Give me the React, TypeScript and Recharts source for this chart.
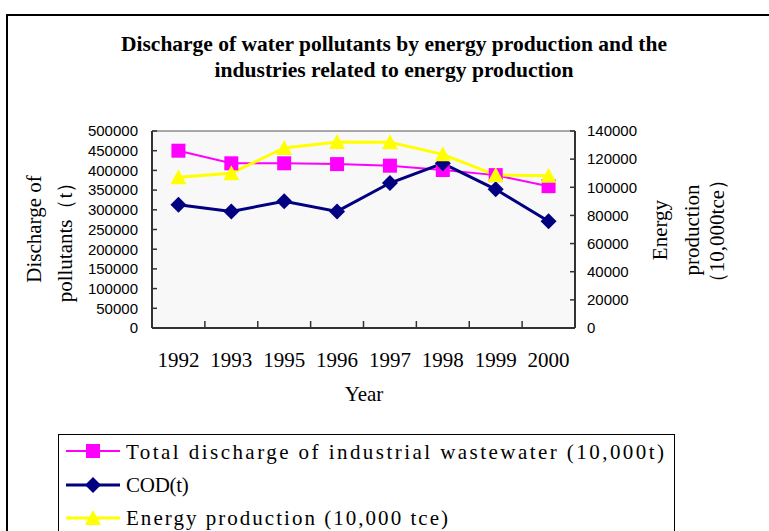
import React from 'react';
import { LineChart, Line, XAxis, YAxis, Legend, ReferenceLine, CartesianGrid } from 'recharts';

const years = ['1992', '1993', '1995', '1996', '1997', '1998', '1999', '2000'];
const wastewater = [450000, 418000, 418000, 416000, 412000, 401000, 388000, 360000];
const cod = [313000, 296000, 321500, 296000, 368000, 418000, 352000, 271000];
const energy = [107100, 110000, 128000, 132200, 132000, 123400, 108700, 108200];

const leftTicks = [0, 50000, 100000, 150000, 200000, 250000, 300000, 350000, 400000, 450000, 500000];
const rightTicks = [0, 20000, 40000, 60000, 80000, 100000, 120000, 140000];

const titleLines = [
  'Discharge of water pollutants by energy production and the',
  'industries related to energy production',
];
const leftTitle = ['Discharge of', 'pollutants（t）'];
const rightTitle = ['Energy', 'production', '（10,000tce）'];
const xTitle = 'Year';

const seriesNames = [
  'Total discharge of industrial wastewater (10,000t)',
  'COD(t)',
  'Energy production (10,000 tce)',
];

const data = years.map((y, i) => ({ year: y, ww: wastewater[i], cod: cod[i], en: energy[i] }));

const MAGENTA = '#FF00FF';
const NAVY = '#000080';
const YELLOW = '#FFFF00';
const SERIF = '"Liberation Serif", "Times New Roman", serif';
const SANS = '"Liberation Sans", Arial, sans-serif';

const W = 769;
const H = 531;
const M = { top: 131, right: 2, bottom: 2, left: 2 };
const LEFT_W = 150;
const RIGHT_W = 192;
const X_H = 201;
const PLOT_W = W - M.left - M.right - LEFT_W - RIGHT_W;
const HALF_BAND = PLOT_W / years.length / 2;
const TICK_MARGIN = 24;

const Square = (p: any) => {
  const { cx, cy, index } = p;
  if (cx == null || cy == null) return <g key={'s' + index} />;
  return <rect key={'s' + index} x={cx - 7} y={cy - 7} width={14} height={14} fill={MAGENTA} />;
};
const Diamond = (p: any) => {
  const { cx, cy, index } = p;
  if (cx == null || cy == null) return <g key={'d' + index} />;
  return (
    <polygon
      key={'d' + index}
      points={`${cx},${cy - 8} ${cx + 8},${cy} ${cx},${cy + 8} ${cx - 8},${cy}`}
      fill={NAVY}
    />
  );
};
const Triangle = (p: any) => {
  const { cx, cy, index } = p;
  if (cx == null || cy == null) return <g key={'t' + index} />;
  return (
    <polygon
      key={'t' + index}
      points={`${cx},${cy - 8} ${cx + 8},${cy + 7} ${cx - 8},${cy + 7}`}
      fill={YELLOW}
    />
  );
};

const CatTick = (p: any) => {
  const { x, y, payload, index } = p;
  const axisY = y - TICK_MARGIN;
  const sx = x + HALF_BAND;
  return (
    <g>
      {index < years.length - 1 && (
        <line x1={sx} x2={sx} y1={axisY - 7} y2={axisY} stroke="#333" strokeWidth={1.5} />
      )}
      <text x={x} y={y} dy="0.71em" textAnchor="middle" fontFamily={SERIF} fontSize={21} fill="#000">
        {payload.value}
      </text>
    </g>
  );
};

const LegendContent = () => {
  const rows = [
    { name: seriesNames[0], color: MAGENTA, w: 2, kind: 's' },
    { name: seriesNames[1], color: NAVY, w: 3, kind: 'd' },
    { name: seriesNames[2], color: YELLOW, w: 3, kind: 't' },
  ];
  const cy = [17, 51, 84];
  const base = [25, 58, 91];
  return (
    <svg width={620} height={110} style={{ display: 'block' }}>
      <rect x={0.5} y={0.5} width={616} height={120} fill="#fff" stroke="#000" strokeWidth={1} />
      {rows.map((r, i) => (
        <g key={i}>
          <line x1={8} x2={62} y1={cy[i]} y2={cy[i]} stroke={r.color} strokeWidth={r.w} />
          {r.kind === 's' && <rect x={28} y={cy[i] - 7} width={14} height={14} fill={r.color} />}
          {r.kind === 'd' && (
            <polygon points={`35,${cy[i] - 8} 43,${cy[i]} 35,${cy[i] + 8} 27,${cy[i]}`} fill={r.color} />
          )}
          {r.kind === 't' && (
            <polygon points={`35,${cy[i] - 8} 43,${cy[i] + 7} 27,${cy[i] + 7}`} fill={r.color} />
          )}
          <text
            x={68}
            y={base[i]}
            fontFamily={SERIF}
            fontSize={21}
            fill="#000"
            textLength={r.name.length * 10.8 - 2}
            lengthAdjust="spacing"
          >
            {r.name}
          </text>
        </g>
      ))}
    </svg>
  );
};

export default function App() {
  return (
    <div style={{ position: 'absolute', left: 0, top: 0, width: W, height: H, overflow: 'hidden', background: '#fff' }}>
      <div
        style={{
          position: 'absolute',
          left: 6,
          top: 14,
          width: 900,
          height: 700,
          border: '2px solid #000',
          boxSizing: 'border-box',
        }}
      />
      <div style={{ position: 'absolute', left: 0, top: 0 }}>
        <LineChart width={W} height={H} data={data} margin={M}>
          <CartesianGrid horizontal={false} vertical={false} fill="#f8f8f8" yAxisId="left" xAxisId="cat" />
          <XAxis
            xAxisId="cat"
            dataKey="year"
            padding={{ left: HALF_BAND, right: HALF_BAND }}
            tickLine={false}
            tickSize={0}
            tickMargin={TICK_MARGIN}
            height={X_H}
            axisLine={{ stroke: '#333', strokeWidth: 2 }}
            tick={CatTick}
            interval={0}
          />
          <YAxis
            yAxisId="left"
            width={LEFT_W}
            domain={[0, 500000]}
            ticks={leftTicks}
            interval={0}
            tickSize={-5}
            tickMargin={19}
            tickLine={{ stroke: '#333', strokeWidth: 1.5 }}
            axisLine={{ stroke: '#333', strokeWidth: 2 }}
            tick={{ fontFamily: SANS, fontSize: 15, fill: '#000' }}
          />
          <YAxis
            yAxisId="right"
            orientation="right"
            width={RIGHT_W}
            domain={[0, 140000]}
            ticks={rightTicks}
            interval={0}
            tickSize={-5}
            tickMargin={17}
            tickLine={{ stroke: '#333', strokeWidth: 1.5 }}
            axisLine={{ stroke: '#333', strokeWidth: 2 }}
            tick={{ fontFamily: SANS, fontSize: 15, fill: '#000', textAnchor: 'start' }}
          />
          <ReferenceLine yAxisId="left" xAxisId="cat" y={500000} stroke="#555" strokeWidth={1} />
          <Line
            xAxisId="cat"
            yAxisId="left"
            dataKey="ww"
            stroke={MAGENTA}
            strokeWidth={2}
            dot={Square}
            activeDot={false}
            isAnimationActive={false}
          />
          <Line
            xAxisId="cat"
            yAxisId="left"
            dataKey="cod"
            stroke={NAVY}
            strokeWidth={3}
            dot={Diamond}
            activeDot={false}
            isAnimationActive={false}
          />
          <Line
            xAxisId="cat"
            yAxisId="right"
            dataKey="en"
            stroke={YELLOW}
            strokeWidth={3}
            dot={Triangle}
            activeDot={false}
            isAnimationActive={false}
          />
          <Legend
            layout="horizontal"
            verticalAlign="middle"
            align="center"
            content={LegendContent}
            wrapperStyle={{ position: 'absolute', left: 58, top: 434, width: 620, height: 110 }}
          />
        </LineChart>
      </div>
      <svg width={W} height={H} style={{ position: 'absolute', left: 0, top: 0, pointerEvents: 'none' }}>
        <text x={394} y={51} textAnchor="middle" fontFamily={SERIF} fontWeight="bold" fontSize={21} fill="#000"
          textLength={546} lengthAdjust="spacingAndGlyphs">
          {titleLines[0]}
        </text>
        <text x={394} y={77} textAnchor="middle" fontFamily={SERIF} fontWeight="bold" fontSize={21} fill="#000"
          textLength={359} lengthAdjust="spacingAndGlyphs">
          {titleLines[1]}
        </text>
        <text x={41} y={229} transform="rotate(-90 41 229)" textAnchor="middle" fontFamily={SERIF} fontSize={21} fill="#000">
          {leftTitle[0]}
        </text>
        <text x={72} y={237} transform="rotate(-90 72 237)" textAnchor="middle" fontFamily={SERIF} fontSize={21} fill="#000">
          {leftTitle[1]}
        </text>
        <text x={667} y={230} transform="rotate(-90 667 230)" textAnchor="middle" fontFamily={SERIF} fontSize={21} fill="#000">
          {rightTitle[0]}
        </text>
        <text x={699} y={230} transform="rotate(-90 699 230)" textAnchor="middle" fontFamily={SERIF} fontSize={21} fill="#000">
          {rightTitle[1]}
        </text>
        <text x={724} y={231} transform="rotate(-90 724 231)" textAnchor="middle" fontFamily={SERIF} fontSize={21} fill="#000">
          {rightTitle[2]}
        </text>
        <text x={364} y={401} textAnchor="middle" fontFamily={SERIF} fontSize={21} fill="#000">
          {xTitle}
        </text>
      </svg>
    </div>
  );
}
